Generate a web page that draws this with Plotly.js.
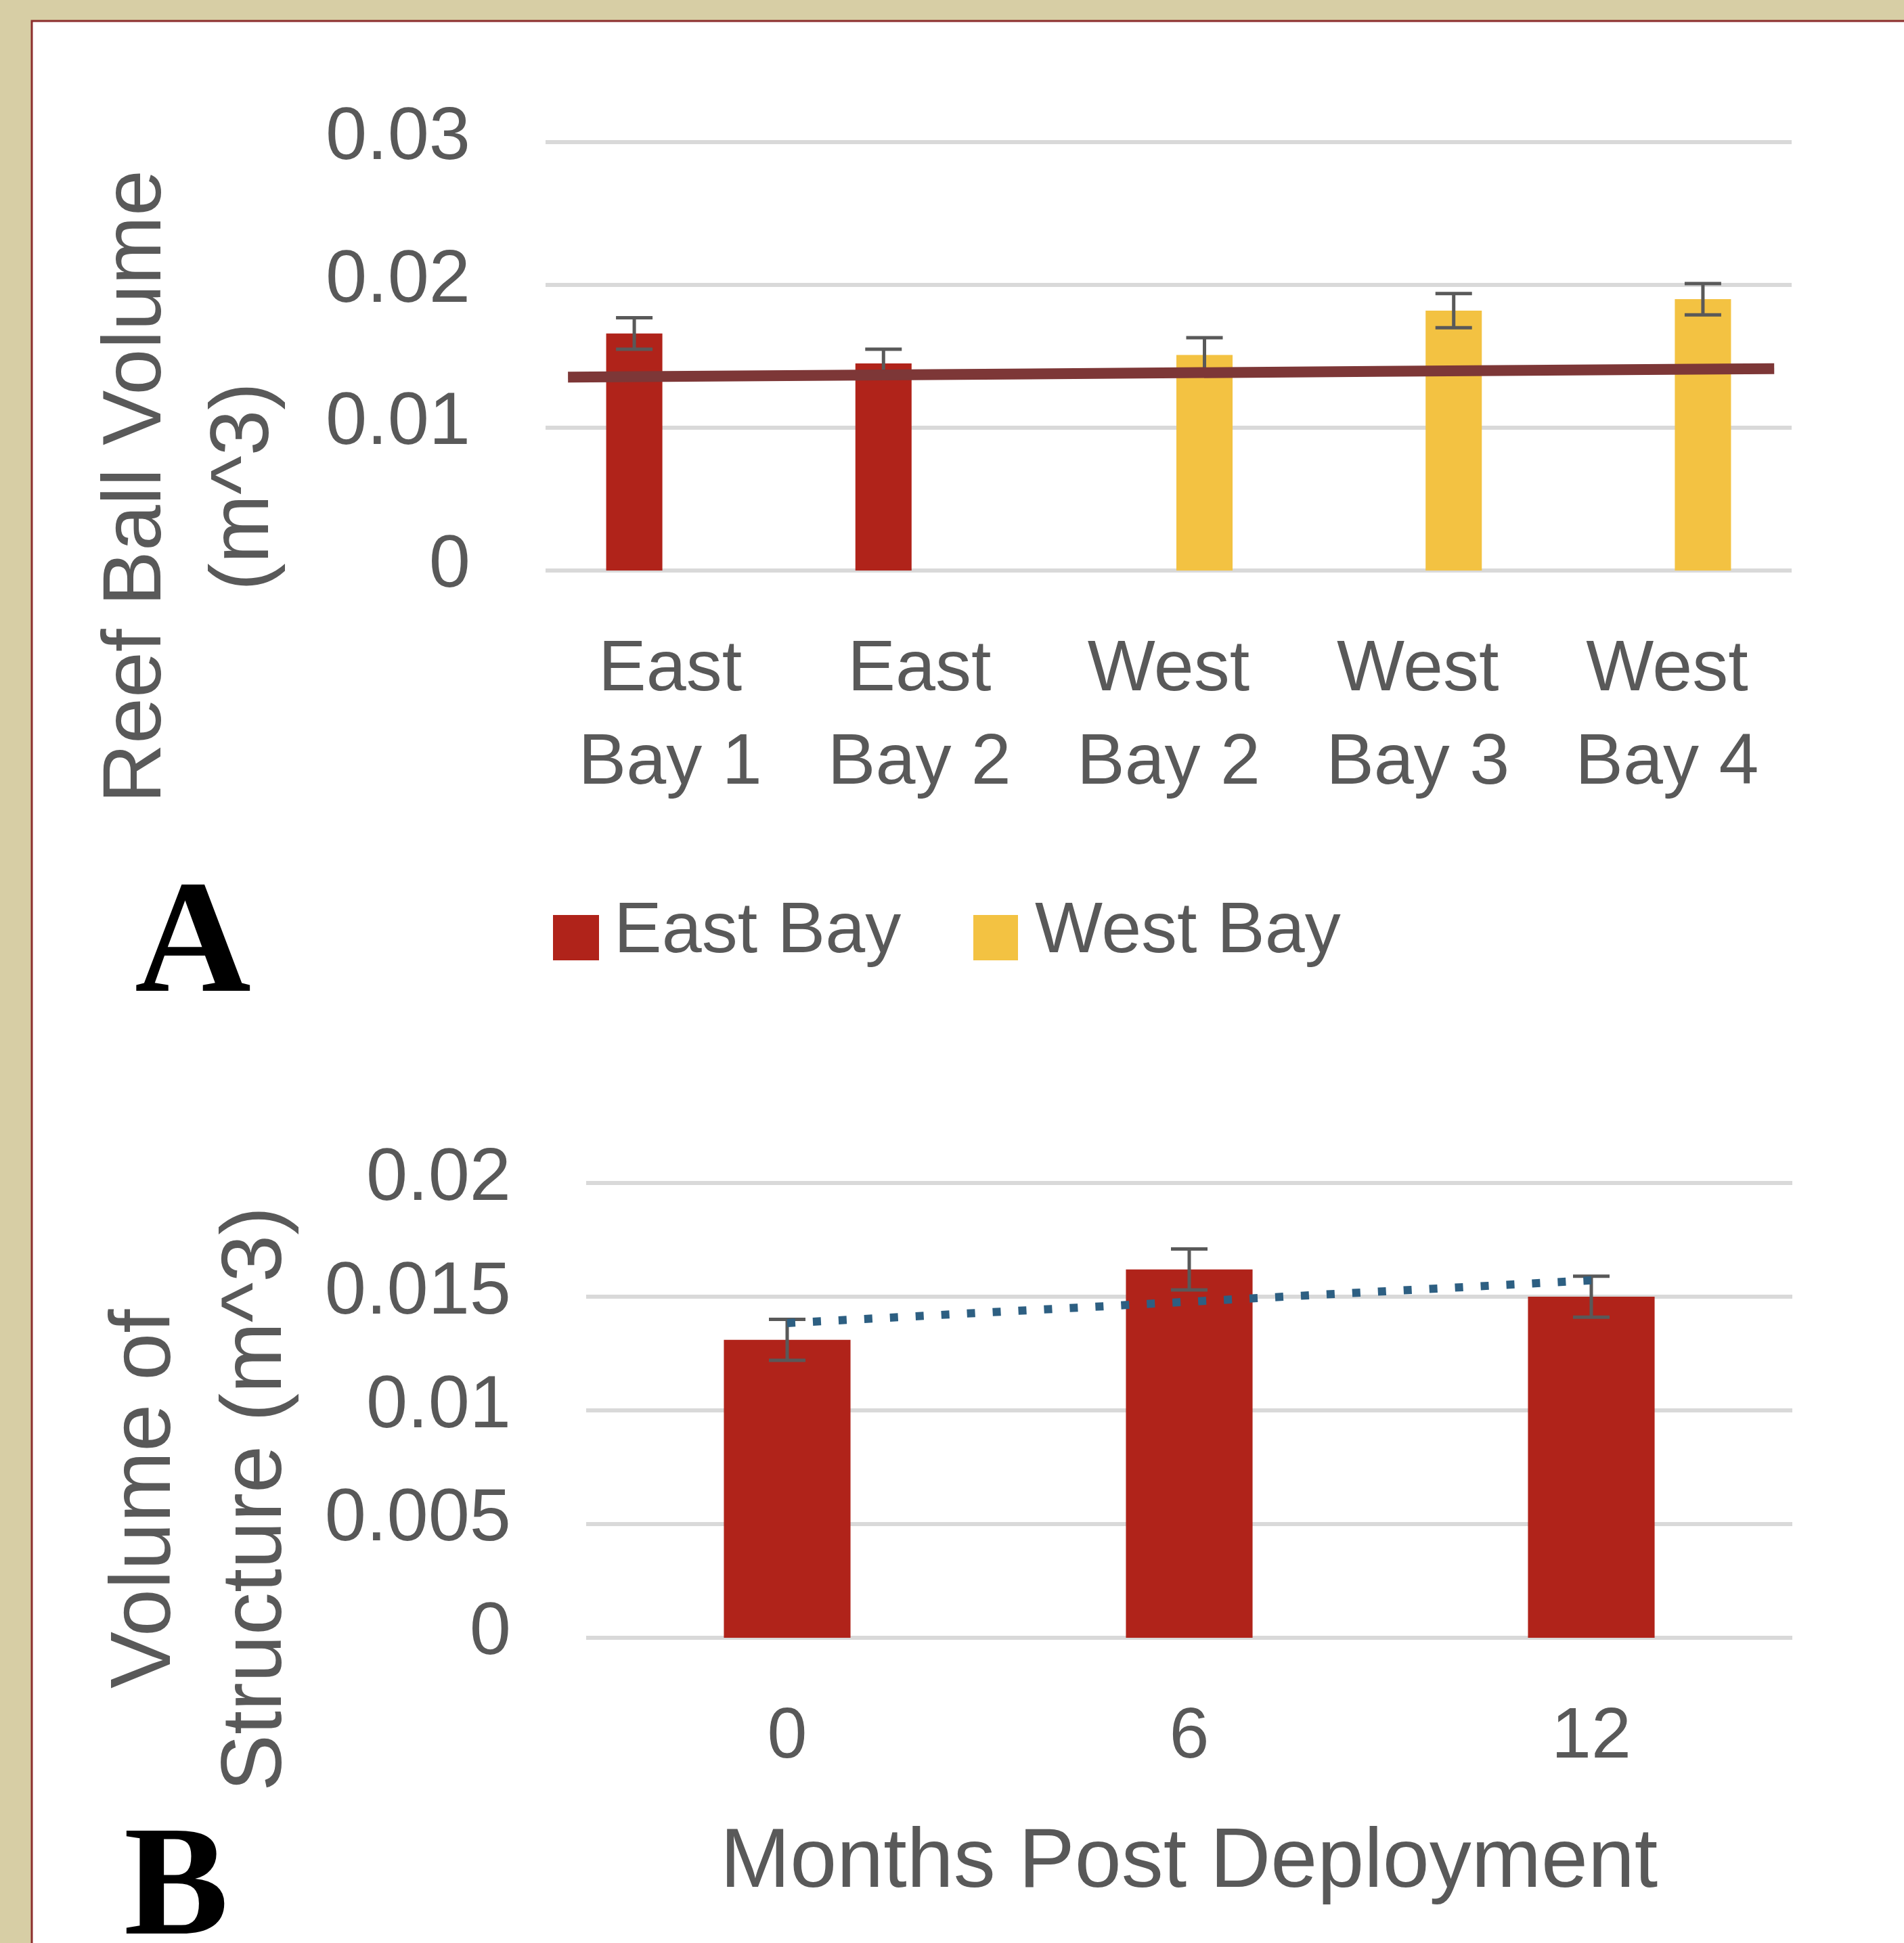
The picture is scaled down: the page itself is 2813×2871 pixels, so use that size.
<!DOCTYPE html>
<html><head><meta charset="utf-8">
<script src="https://cdn.plot.ly/plotly-3.0.1.min.js"></script>
<style>html,body{margin:0;padding:0;background:#d7cea5}#chart{width:2813px;height:2871px}</style>
</head><body><div id="chart"></div>
<script>
// ---------- data: panel A ----------
const categoriesA = ['East Bay 1', 'East Bay 2', 'West Bay 2', 'West Bay 3', 'West Bay 4'];
const tickLabelsA = ['East<br>Bay 1', 'East<br>Bay 2', 'West<br>Bay 2', 'West<br>Bay 3', 'West<br>Bay 4'];
const seriesNamesA = ['East Bay', 'West Bay'];
const eastBayA = [0.0166, 0.0145, null, null, null];
const eastBayErrA = [0.0011, 0.0010, null, null, null];
const westBayA = [null, null, 0.0151, 0.0182, 0.0190];
const westBayErrA = [null, null, 0.0012, 0.0012, 0.0011];
const trendA_x = [-0.41, 4.43];
const trendA_y = [0.01354, 0.01414];
const yTicksA = [0, 0.01, 0.02, 0.03];

// ---------- data: panel B ----------
const monthsB = ['0', '6', '12'];
const volumeB = [0.0131, 0.0162, 0.0150];
const volumeErrB = [0.0009, 0.0009, 0.0009];
const trendB_x = ['0', '12'];
const trendB_y = [0.01384, 0.01572];
const yTicksB = [0, 0.005, 0.01, 0.015, 0.02];

// ---------- layout helpers ----------
const W = 2813, H = 2871;
const fx = x => x / W;
const fy = y => 1 - y / H;
const grey = '#595959';
const sans = 'Liberation Sans, Arial, sans-serif';
const serif = 'Liberation Serif, Times New Roman, serif';
const red = '#b0231a', yellow = '#f3c242';

const errStyle = {type: 'data', color: grey, thickness: 5, width: 27, visible: true};

const traces = [
  {type: 'bar', name: seriesNamesA[0], x: categoriesA, y: eastBayA, xaxis: 'x', yaxis: 'y',
   marker: {color: red}, error_y: Object.assign({array: eastBayErrA}, errStyle)},
  {type: 'bar', name: seriesNamesA[1], x: categoriesA, y: westBayA, xaxis: 'x', yaxis: 'y',
   marker: {color: yellow}, error_y: Object.assign({array: westBayErrA}, errStyle)},
  {type: 'scatter', mode: 'lines', x: trendA_x, y: trendA_y, xaxis: 'x3', yaxis: 'y',
   line: {color: '#7d3737', width: 16}, hoverinfo: 'skip'},
  {type: 'bar', name: 'Volume', x: monthsB, y: volumeB, xaxis: 'x2', yaxis: 'y2', width: 0.315,
   marker: {color: red}, error_y: Object.assign({array: volumeErrB}, errStyle)},
  {type: 'scatter', mode: 'lines', x: trendB_x, y: trendB_y, xaxis: 'x2', yaxis: 'y2',
   line: {color: '#2d5f82', width: 12, dash: '12px,26px'}, hoverinfo: 'skip'}
];

const xTickFont = {family: sans, size: 106, color: grey};
const yTickFont = {family: sans, size: 110, color: grey};

const layout = {
  width: W, height: H,
  margin: {l: 0, r: 0, t: 0, b: 0},
  paper_bgcolor: '#d7cea5', plot_bgcolor: 'rgba(0,0,0,0)',
  showlegend: false,
  barmode: 'group', bargap: 0.424, bargroupgap: 0.217,
  font: {family: sans, color: grey, size: 106},
  xaxis: {domain: [fx(806), fx(2647)], anchor: 'y', type: 'category',
    tickmode: 'array', tickvals: categoriesA, ticktext: tickLabelsA,
    showgrid: false, zeroline: false, showline: false, ticks: '',
    ticklabelstandoff: 66, tickfont: xTickFont},
  xaxis3: {overlaying: 'x', anchor: 'y', range: [-0.5, 4.5], visible: false},
  yaxis: {domain: [fy(847.2), fy(205.8)], anchor: 'x', range: [-0.0002, 0.0302],
    tickmode: 'array', tickvals: yTicksA,
    showgrid: true, gridcolor: '#d9d9d9', gridwidth: 6, zeroline: false, showline: false,
    ticks: '', ticklabelstandoff: 110, ticklabelshift: -14, tickfont: yTickFont},
  xaxis2: {domain: [fx(866), fx(2648)], anchor: 'y2', type: 'category',
    categoryorder: 'array', categoryarray: monthsB,
    showgrid: false, zeroline: false, showline: false, ticks: '',
    ticklabelstandoff: 63, tickfont: xTickFont},
  yaxis2: {domain: [fy(2426.7), fy(1741.3)], anchor: 'x2', range: [-0.0002, 0.0202],
    tickmode: 'array', tickvals: yTicksB,
    showgrid: true, gridcolor: '#d9d9d9', gridwidth: 6, zeroline: false, showline: false,
    ticks: '', ticklabelstandoff: 110, ticklabelshift: -14, tickfont: yTickFont},
  shapes: [
    {type: 'rect', xref: 'paper', yref: 'paper', layer: 'below',
     x0: fx(47), x1: 1.02, y0: -0.02, y1: fy(31),
     fillcolor: '#ffffff', line: {color: '#8c2d2d', width: 3}},
    {type: 'rect', xref: 'paper', yref: 'paper', x0: fx(817), x1: fx(885), y0: fy(1419), y1: fy(1352),
     fillcolor: red, line: {width: 0}},
    {type: 'rect', xref: 'paper', yref: 'paper', x0: fx(1438), x1: fx(1504), y0: fy(1419), y1: fy(1352),
     fillcolor: yellow, line: {width: 0}}
  ],
  annotations: [
    {xref: 'paper', yref: 'paper', x: fx(905), y: fy(1370), xanchor: 'left', yanchor: 'middle',
     text: seriesNamesA[0], showarrow: false, font: {family: sans, size: 106, color: grey}},
    {xref: 'paper', yref: 'paper', x: fx(1527), y: fy(1370), xanchor: 'left', yanchor: 'middle',
     text: seriesNamesA[1], showarrow: false, font: {family: sans, size: 106, color: grey}},
    {xref: 'paper', yref: 'paper', x: fx(274), y: fy(719), xanchor: 'center', yanchor: 'middle',
     textangle: -90, text: 'Reef Ball Volume<br>(m^3)', showarrow: false,
     font: {family: sans, size: 122, color: grey}},
    {xref: 'paper', yref: 'paper', x: fx(289), y: fy(2215), xanchor: 'center', yanchor: 'middle',
     textangle: -90, text: 'Volume of<br>Structure (m^3)', showarrow: false,
     font: {family: sans, size: 126, color: grey}},
    {xref: 'paper', yref: 'paper', x: fx(1756), y: fy(2745), xanchor: 'center', yanchor: 'middle',
     text: 'Months Post Deployment', showarrow: false,
     font: {family: sans, size: 124, color: grey}},
    {xref: 'paper', yref: 'paper', x: fx(285), y: fy(1383), xanchor: 'center', yanchor: 'middle',
     text: 'A', showarrow: false, font: {family: serif, size: 238, color: '#000000', weight: 'bold'}},
    {xref: 'paper', yref: 'paper', x: fx(260), y: fy(2778), xanchor: 'center', yanchor: 'middle',
     text: 'B', showarrow: false, font: {family: serif, size: 232, color: '#000000', weight: 'bold'}}
  ]
};

Plotly.newPlot('chart', traces, layout, {displayModeBar: false, staticPlot: true});
</script>
</body></html>
